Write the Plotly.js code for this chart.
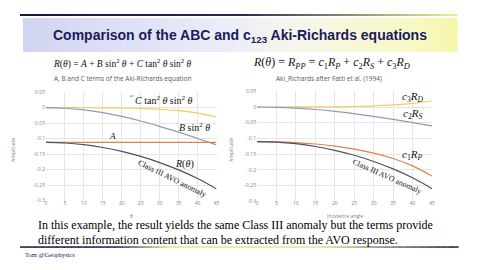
<!DOCTYPE html>
<html>
<head>
<meta charset="utf-8">
<script src="https://cdn.plot.ly/plotly-3.0.1.min.js"></script>
<style>
html,body{margin:0;padding:0;background:#fff;}
#chart{width:480px;height:270px;}
</style>
</head>
<body>
<div id="chart"></div>
<script>
// ---- data ----
const angles = [0, 5, 10, 15, 20, 25, 30, 35, 40, 45];
const tickAngles = [0, 5, 10, 15, 20, 25, 30, 35, 40, 45];
const tickAngleText = ['0', '5', '10', '15', '20', '25', '30', '35', '40', '45'];
const ampTicks = [0.05, 0, -0.05, -0.1, -0.15, -0.2, -0.25, -0.3];
const ampTickText = ['0.05', '0', '-0.05', '-0.1', '-0.15', '-0.2', '-0.25', '-0.3'];

// left chart: A, B and C terms
const termA = [-0.112, -0.112, -0.112, -0.112, -0.112, -0.112, -0.112, -0.112, -0.112, -0.112];
const termB = [0, -0.0018, -0.0072, -0.0161, -0.0281, -0.0429, -0.060, -0.079, -0.0992, -0.120];
const termC = [0, 0, -0.0001, -0.0003, -0.0009, -0.0023, -0.005, -0.0097, -0.0174, -0.030];
const rABC  = [-0.112, -0.1138, -0.1193, -0.1284, -0.141, -0.1572, -0.177, -0.2007, -0.2286, -0.262];

// right chart: c1 Rp, c2 Rs, c3 Rd (Fatti et al.)
const c1Rp = [-0.110, -0.1108, -0.1134, -0.1179, -0.1246, -0.1339, -0.1467, -0.1639, -0.1875, -0.220];
const c2Rs = [0, -0.0009, -0.0036, -0.008, -0.014, -0.0214, -0.030, -0.0395, -0.0496, -0.060];
const c3Rd = [0, 0, 0.0001, 0.0002, 0.0006, 0.0016, 0.0033, 0.0065, 0.0116, 0.020];
const rFatti = [-0.110, -0.1117, -0.1169, -0.1257, -0.138, -0.1537, -0.1734, -0.1969, -0.2255, -0.260];

// ---- helpers for page layout ----
const W = 480, H = 270;
const px = x => x / W;
const py = y => 1 - y / H;

const colC = '#F2CC5A', colA = '#E0844A', colB = '#8A9CB8', colR = '#4A5363';

function tr(y, color, xa, ya) {
  return {x: angles, y: y, type: 'scatter', mode: 'lines', xaxis: xa, yaxis: ya,
    line: {color: color, width: 1.2, shape: 'spline'}, hoverinfo: 'skip', showlegend: false};
}

const data = [
  tr(termC, colC, 'x', 'y'),
  tr(termB, colB, 'x', 'y'),
  tr(termA, colA, 'x', 'y'),
  tr(rABC, colR, 'x', 'y'),
  tr(c3Rd, colC, 'x2', 'y2'),
  tr(c2Rs, colB, 'x2', 'y2'),
  tr(c1Rp, colA, 'x2', 'y2'),
  tr(rFatti, colR, 'x2', 'y2')
];

function mkX(domain) {
  return {domain: domain, range: [0, 45], tickvals: tickAngles, ticktext: tickAngleText,
    showgrid: true, gridcolor: '#E6E6E6', gridwidth: 1, zeroline: false, showline: false,
    ticks: '', ticklabelstandoff: -2,
    tickfont: {family: 'Open Sans, Liberation Sans, sans-serif', size: 5, color: '#7F7F7F'}, fixedrange: true};
}
function mkY(domain) {
  return {domain: domain, range: [-0.3, 0.05], tickvals: ampTicks, ticktext: ampTickText,
    showgrid: true, gridcolor: '#E6E6E6', gridwidth: 1, zeroline: false, showline: false,
    ticks: '', tickfont: {family: 'Open Sans, Liberation Sans, sans-serif', size: 5, color: '#7F7F7F'}, fixedrange: true};
}

// ---- decorative gradient shapes ----
function lerp(stops, t) {
  for (let i = 0; i < stops.length - 1; i++) {
    const a = stops[i], b = stops[i + 1];
    if (t >= a[0] && t <= b[0]) {
      const f = (t - a[0]) / (b[0] - a[0] || 1);
      const c = a[1].map((v, k) => Math.round(v + (b[1][k] - v) * f));
      return 'rgb(' + c.join(',') + ')';
    }
  }
  const l = stops[stops.length - 1][1];
  return 'rgb(' + l.join(',') + ')';
}
const shapes = [];
function gradRect(x0, x1, y0, y1, stops, n) {
  const step = (x1 - x0) / n;
  for (let i = 0; i < n; i++) {
    const t = (i + 0.5) / n;
    shapes.push({type: 'rect', xref: 'paper', yref: 'paper', layer: 'below',
      x0: px(x0 + i * step), x1: px(x0 + (i + 1) * step + 0.6), y0: py(y1), y1: py(y0),
      line: {width: 0}, fillcolor: lerp(stops, t)});
  }
}
// title band
gradRect(23, 457, 18, 52, [[0, [208, 212, 241]], [0.45, [234, 236, 248]], [0.62, [246, 246, 236]], [0.9, [248, 248, 196]], [1, [246, 246, 170]]], 70);
// top rule
gradRect(20, 457, 14, 16, [[0, [22, 22, 62]], [0.5, [40, 40, 80]], [0.78, [150, 150, 120]], [1, [238, 238, 150]]], 60);
// bottom rule
gradRect(20, 458, 246.3, 247.8, [[0, [22, 22, 70]], [0.22, [30, 30, 80]], [0.34, [232, 232, 120]], [0.68, [230, 230, 150]], [1, [22, 22, 70]]], 60);

// ---- text annotations ----
const serif = 'Liberation Serif, Times New Roman, serif';
const sans = 'Liberation Sans, Arial, sans-serif';
const light = 'Open Sans, Liberation Sans, sans-serif';
function ann(text, x, y, opts) {
  return Object.assign({text: text, xref: 'paper', yref: 'paper', x: px(x), y: py(y),
    xanchor: 'center', yanchor: 'middle', showarrow: false,
    font: {family: serif, size: 10, color: '#111'}}, opts || {});
}
const annotations = [
  ann('Comparison of the ABC and c<sub>123</sub> Aki-Richards equations', 240, 36,
      {font: {family: sans, size: 14, color: '#1B1B5A', weight: 'bold'}}),
  ann('<i>R</i>(<i>θ</i>) = <i>A</i> + <i>B</i> sin<sup>2</sup> <i>θ</i> + <i>C</i> tan<sup>2</sup> <i>θ</i> sin<sup>2</sup> <i>θ</i>', 122, 63,
      {font: {family: serif, size: 9.5, color: '#111'}}),
  ann('A, B and C terms of the Aki-Richards equation', 123, 79,
      {font: {family: light, size: 6.5, color: '#595959'}}),
  ann('<i>R</i>(<i>θ</i>) = <i>R</i><sub><i>PP</i></sub> = <i>c</i><sub>1</sub><i>R</i><sub><i>P</i></sub> + <i>c</i><sub>2</sub><i>R</i><sub><i>S</i></sub> + <i>c</i><sub>3</sub><i>R</i><sub><i>D</i></sub>', 331, 63,
      {font: {family: serif, size: 12, color: '#111'}}),
  ann('Aki_Richards after Fatti et al. (1994)', 329, 79,
      {font: {family: light, size: 6.5, color: '#595959'}}),
  // left chart labels
  ann('½', 132, 96, {font: {family: serif, size: 5, color: '#333'}}),
  ann('<i>C</i> tan<sup>2</sup> <i>θ</i> sin<sup>2</sup> <i>θ</i>', 163, 100, {font: {family: serif, size: 10, color: '#111'}}),
  ann('<i>B</i> sin<sup>2</sup> <i>θ</i>', 194, 127, {font: {family: serif, size: 10, color: '#111'}}),
  ann('<i>A</i>', 112, 136, {font: {family: serif, size: 9, color: '#111'}}),
  ann('<i>R</i>(<i>θ</i>)', 184, 164, {font: {family: serif, size: 10, color: '#111'}}),
  ann('Class III AVO anomaly', 172, 178, {textangle: 26, font: {family: serif, size: 8, color: '#111'}}),
  // right chart labels
  ann('<i>c</i><sub>3</sub><i>R</i><sub><i>D</i></sub>', 412, 97, {font: {family: serif, size: 11, color: '#111'}}),
  ann('<i>c</i><sub>2</sub><i>R</i><sub><i>S</i></sub>', 412, 114, {font: {family: serif, size: 11, color: '#111'}}),
  ann('<i>c</i><sub>1</sub><i>R</i><sub><i>P</i></sub>', 412, 155, {font: {family: serif, size: 11, color: '#111'}}),
  ann('Class III AVO anomaly', 387, 176, {textangle: 24, font: {family: serif, size: 8, color: '#111'}}),
  // axis titles
  ann('Amplitude', 13, 150, {textangle: -90, font: {family: light, size: 5, color: '#7F7F7F'}}),
  ann('Amplitude', 231, 150, {textangle: -90, font: {family: light, size: 5, color: '#7F7F7F'}}),
  ann('θ', 131, 215.5, {font: {family: light, size: 5, color: '#7F7F7F'}}),
  ann('Incidence angle', 345, 215.5, {font: {family: light, size: 5, color: '#7F7F7F'}}),
  // body text
  ann('In this example, the result yields the same Class III anomaly but the terms provide', 36, 225,
      {xanchor: 'left', font: {family: serif, size: 12, color: '#000'}}),
  ann('different information content that can be extracted from the AVO response.', 36, 239.5,
      {xanchor: 'left', font: {family: serif, size: 12, color: '#000'}}),
  ann('Tom @Geophysics', 23, 254, {xanchor: 'left', font: {family: serif, size: 6.5, color: '#1B1B5A'}})
];

const layout = {
  width: W, height: H,
  margin: {l: 0, r: 0, t: 0, b: 0, pad: 0},
  paper_bgcolor: '#FFFFFF', plot_bgcolor: '#FFFFFF',
  showlegend: false,
  xaxis: Object.assign(mkX([px(46), px(216.5)]), {anchor: 'y'}),
  yaxis: Object.assign(mkY([py(200.7), py(92.2)]), {anchor: 'x'}),
  xaxis2: Object.assign(mkX([px(257), px(432)]), {anchor: 'y2'}),
  yaxis2: Object.assign(mkY([py(201.2), py(91.3)]), {anchor: 'x2'}),
  shapes: shapes,
  annotations: annotations
};

Plotly.newPlot('chart', data, layout, {displayModeBar: false, staticPlot: true});
</script>
</body>
</html>
